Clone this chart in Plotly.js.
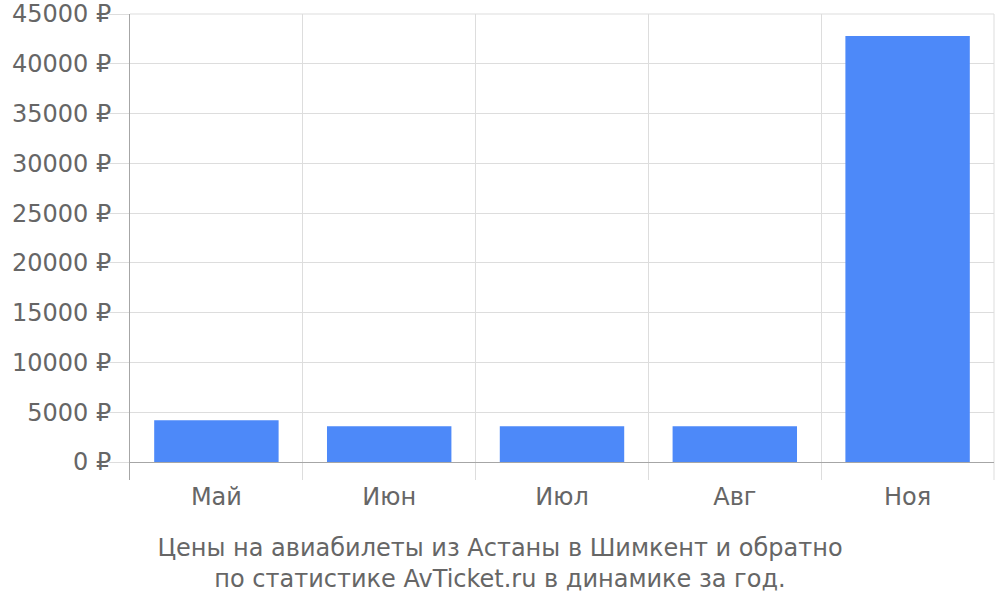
<!DOCTYPE html>
<html>
<head>
<meta charset="utf-8">
<script src="https://cdn.plot.ly/plotly-3.0.1.min.js"></script>
<style>
  html, body { margin: 0; padding: 0; background: #fff; }
  #chart { width: 1000px; height: 600px; }
</style>
</head>
<body>
<div id="chart"></div>
<script>
// monthly prices, Astana <-> Shymkent
const months = ['Май', 'Июн', 'Июл', 'Авг', 'Ноя'];
const prices = [4200, 3600, 3600, 3600, 42800];
const tickVals = [0, 5000, 10000, 15000, 20000, 25000, 30000, 35000, 40000, 45000];
const tickText = tickVals.map(v => v + ' ₽');

const FONT = 'DejaVu Sans, sans-serif';
const TEXT = '#666666';
const GRID = '#dddddd';
const AXIS = '#a6a6a6';

const layout = {
    width: 1000, height: 600,
    margin: { l: 130, r: 6, t: 14, b: 120 },
    paper_bgcolor: '#fff', plot_bgcolor: '#fff',
    font: { family: FONT, size: 24, color: TEXT },
    showlegend: false,
    bargap: 0.28,
    title: {
        text: 'Цены на авиабилеты из Астаны в Шимкент и обратно<br>по статистике AvTicket.ru в динамике за год.',
        font: { family: FONT, size: 24, color: TEXT },
        x: 0.5, xref: 'container', xanchor: 'center',
        y: 0.074, yref: 'container', yanchor: 'middle'
    },
    xaxis: {
        type: 'category',
        tickson: 'boundaries',
        showgrid: true, gridcolor: GRID, gridwidth: 1,
        ticks: '', showline: false, zeroline: false,
        tickfont: { family: FONT, size: 24, color: TEXT }
    },
    yaxis: {
        range: [-1808, 45000],
        tickvals: tickVals, ticktext: tickText,
        ticks: 'outside', ticklen: 20, tickcolor: GRID, tickwidth: 1,
        ticklabelstandoff: -7,
        showgrid: true, gridcolor: GRID, gridwidth: 1,
        zeroline: true, zerolinecolor: AXIS, zerolinewidth: 1,
        showline: true, linecolor: AXIS, linewidth: 1,
        tickfont: { family: FONT, size: 24, color: TEXT }
    },
    shapes: [{
        type: 'line', xref: 'paper', yref: 'paper',
        x0: 1, x1: 1, y0: 0, y1: 1,
        line: { color: GRID, width: 1 }, layer: 'below'
    }, {
        type: 'line', xref: 'paper', yref: 'paper',
        x0: 0, x1: 1, y0: 1, y1: 1,
        line: { color: GRID, width: 1 }, layer: 'below'
    }]
};

Plotly.newPlot('chart', [{
    type: 'bar', x: months, y: prices,
    marker: { color: '#4d89f9', line: { width: 0 } },
    hoverinfo: 'none'
}], layout, { staticPlot: true });
</script>
</body>
</html>
